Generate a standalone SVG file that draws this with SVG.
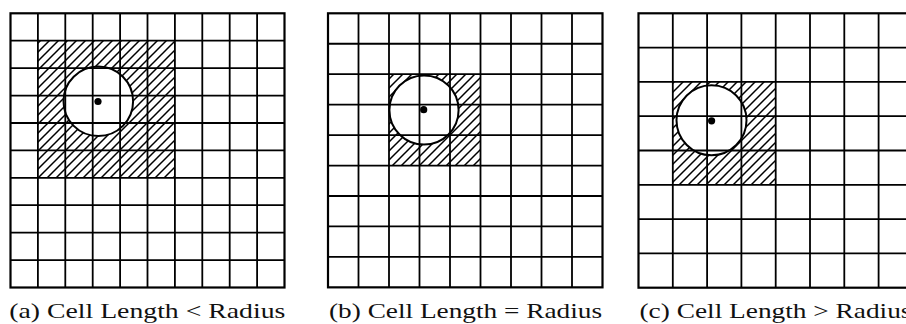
<svg xmlns="http://www.w3.org/2000/svg" width="906" height="324" viewBox="0 0 906 324">
  <defs>
    <pattern id="hatch" patternUnits="userSpaceOnUse" width="9" height="9">
      <path d="M-1,1 L1,-1 M0,9 L9,0 M8,10 L10,8" stroke="#000" stroke-width="1.5" fill="none"/>
    </pattern>
  </defs>
  <style>
    .hatch { fill: url(#hatch); stroke: none; }
    .hole { fill: #fff; stroke: none; }
    .grid { fill: none; stroke: #000; stroke-width: 1.8; }
    .frame { fill: none; stroke: #000; stroke-width: 2.2; }
    .ring { fill: none; stroke: #000; stroke-width: 2; }
    .dot { fill: #000; }
    .cap { font-family: "Liberation Serif", "DejaVu Serif", serif; font-size: 22px; fill: #111; text-anchor: middle; }
  </style>

  <g id="panel-a">
    <rect class="hatch" x="37.9" y="40.7" width="137" height="137.1"/>
    <circle class="hole" cx="98.3" cy="101.3" r="34.8"/>
    <path class="grid" d="M37.9,13.3V287.5 M65.3,13.3V287.5 M92.7,13.3V287.5 M120.1,13.3V287.5 M147.5,13.3V287.5 M174.9,13.3V287.5 M202.3,13.3V287.5 M229.7,13.3V287.5 M257.1,13.3V287.5
      M10.5,40.7H284.5 M10.5,68.1H284.5 M10.5,95.6H284.5 M10.5,123H284.5 M10.5,150.4H284.5 M10.5,177.8H284.5 M10.5,205.2H284.5 M10.5,232.7H284.5 M10.5,260.1H284.5"/>
    <rect class="frame" x="10.5" y="13.3" width="274" height="274.2"/>
    <circle class="ring" cx="98.3" cy="101.3" r="34.8"/>
    <circle class="dot" cx="98" cy="101.5" r="3.6"/>
    <text class="cap" x="147.3" y="318" textLength="276" lengthAdjust="spacingAndGlyphs">(a) Cell Length &lt; Radius</text>
  </g>

  <g id="panel-b">
    <rect class="hatch" x="389" y="74.2" width="91.5" height="91.35"/>
    <circle class="hole" cx="424" cy="110" r="34.6"/>
    <path class="grid" d="M358.5,13.3V287.35 M389,13.3V287.35 M419.5,13.3V287.35 M450,13.3V287.35 M480.5,13.3V287.35 M511,13.3V287.35 M541.5,13.3V287.35 M572,13.3V287.35
      M328,43.75H602.5 M328,74.2H602.5 M328,104.65H602.5 M328,135.1H602.5 M328,165.55H602.5 M328,196H602.5 M328,226.45H602.5 M328,256.9H602.5"/>
    <rect class="frame" x="328" y="13.3" width="274.5" height="274.05"/>
    <circle class="ring" cx="424" cy="110" r="34.6"/>
    <circle class="dot" cx="423.7" cy="109.7" r="3.6"/>
    <text class="cap" x="465.5" y="318" textLength="273" lengthAdjust="spacingAndGlyphs">(b) Cell Length = Radius</text>
  </g>

  <g id="panel-c">
    <rect class="hatch" x="672.8" y="81.9" width="102.9" height="102.9"/>
    <circle class="hole" cx="711.5" cy="120.3" r="35"/>
    <path class="grid" d="M672.8,13.3V287.7 M707.1,13.3V287.7 M741.4,13.3V287.7 M775.7,13.3V287.7 M810,13.3V287.7 M844.3,13.3V287.7 M878.6,13.3V287.7
      M638.5,47.6H912.9 M638.5,81.9H912.9 M638.5,116.2H912.9 M638.5,150.5H912.9 M638.5,184.8H912.9 M638.5,219.1H912.9 M638.5,253.4H912.9"/>
    <rect class="frame" x="638.5" y="13.3" width="274.4" height="274.4"/>
    <circle class="ring" cx="711.5" cy="120.3" r="35"/>
    <circle class="dot" cx="711.6" cy="120.8" r="3.6"/>
    <text class="cap" x="775.5" y="318" textLength="272" lengthAdjust="spacingAndGlyphs">(c) Cell Length &gt; Radius</text>
  </g>
</svg>
